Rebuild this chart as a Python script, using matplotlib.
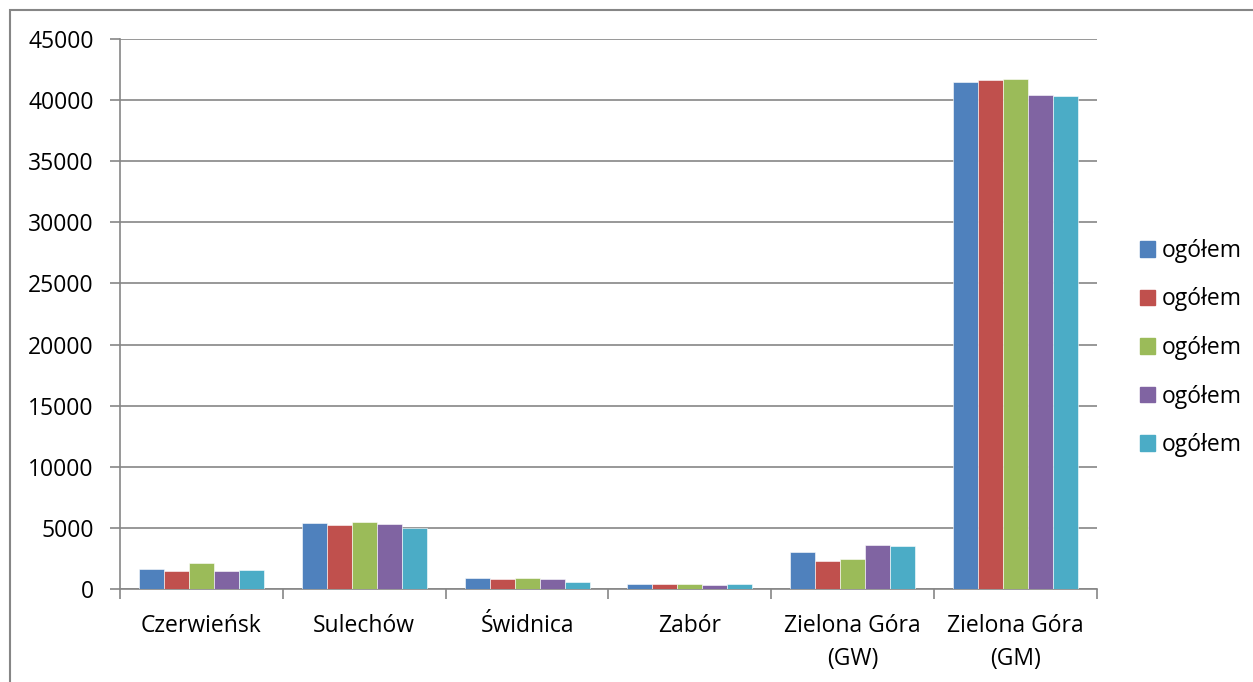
import matplotlib.pyplot as plt
import matplotlib.patches as mpatches
import numpy as np

# data
categories = ['Czerwieńsk', 'Sulechów', 'Świdnica', 'Zabór',
              'Zielona Góra\n(GW)', 'Zielona Góra\n(GM)']
series_labels = ['ogółem', 'ogółem', 'ogółem', 'ogółem', 'ogółem']
s1 = [1610, 5415, 860, 390, 3040, 41490]
s2 = [1490, 5250, 800, 450, 2290, 41660]
s3 = [2130, 5520, 940, 390, 2460, 41690]
s4 = [1440, 5330, 780, 330, 3640, 40410]
s5 = [1550, 4990, 580, 390, 3510, 40330]
colors = ['#4F81BD', '#C0504D', '#9BBB59', '#8064A2', '#4BACC6']

plt.rcParams['font.family'] = ['Open Sans', 'DejaVu Sans']
FS = 16.5

fig = plt.figure(figsize=(12.53, 6.82), dpi=100)
ax = fig.add_axes([120 / 1253, 1 - 589 / 682, 977 / 1253, 550 / 682])

x = np.arange(len(categories))
width = 0.1535
series = [s1, s2, s3, s4, s5]
for i, (vals, lab) in enumerate(zip(series, series_labels)):
    ax.bar(x + (i - 2) * width, vals, width, color=colors[i], label=lab,
           edgecolor='white', linewidth=0.4, zorder=3)

ax.set_xlim(-0.5, len(categories) - 0.5)
ax.set_ylim(0, 45000)
ax.set_yticks(np.arange(0, 45001, 5000))
ax.yaxis.grid(True, color='#868686', linewidth=1.2, zorder=0)

# categories between boundary ticks, like the spreadsheet axis
ax.set_xticks(np.arange(-0.5, len(categories), 1))
ax.set_xticklabels([])
ax.set_xticks(x, minor=True)
ax.set_xticklabels(categories, minor=True, fontsize=FS, linespacing=1.5)
ax.tick_params(axis='x', which='minor', length=0, pad=18)
ax.tick_params(axis='x', which='major', length=7, color='#868686', width=1.2)
ax.tick_params(axis='y', length=7, color='#868686', width=1.2, labelsize=FS, pad=12)

for side in ['top', 'right']:
    ax.spines[side].set_visible(False)
for side in ['left', 'bottom']:
    ax.spines[side].set_color('#868686')
    ax.spines[side].set_linewidth(1.2)

handles = [mpatches.Patch(color=c) for c in colors]
fig.legend(handles, series_labels, loc='center left',
           bbox_to_anchor=(1119 / 1253, 1 - 348 / 682), frameon=False,
           fontsize=FS, handlelength=0.65, handleheight=0.65,
           handletextpad=0.3, labelspacing=1.07)

# outer frame of the chart area
fig.patches.append(mpatches.Rectangle((10 / 1253, -0.1), 1.2, 1 - 10 / 682 + 0.1,
                                      transform=fig.transFigure, fill=False,
                                      edgecolor='#868686', linewidth=1.5))

fig.savefig('out.png', dpi=100)
